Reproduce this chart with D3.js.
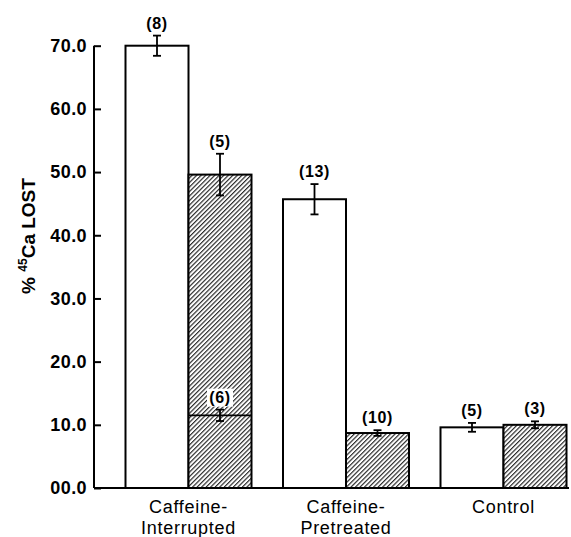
<!DOCTYPE html>
<html>
<head>
<meta charset="utf-8">
<script src="https://cdn.jsdelivr.net/npm/d3@7"></script>
<style>
  html, body { margin: 0; padding: 0; background: #fff; }
  svg { display: block; font-family: "Liberation Sans", Arial, Helvetica, sans-serif; }
</style>
</head>
<body>
<svg id="chart" width="571" height="537"></svg>
<script>
// Treatment groups along the x axis (two text lines each)
const groups = ["Caffeine-Interrupted", "Caffeine-Pretreated", "Control"];
const groupLines = [["Caffeine-", "Interrupted"], ["Caffeine-", "Pretreated"], ["Control"]];

// Open bars: mean % 45Ca lost, SEM, and number of preparations
const openValues = [70.0, 45.7, 9.6];
const openErrors = [1.6, 2.4, 0.7];
const openN = [8, 13, 5];

// Hatched bars
const hatchedValues = [49.6, 8.7, 10.0];
const hatchedErrors = [3.3, 0.45, 0.55];
const hatchedN = [5, 10, 3];

// Second level marked inside the Caffeine-Interrupted hatched bar
const innerGroup = "Caffeine-Interrupted";
const innerValue = 11.5;
const innerError = 0.9;
const innerN = 6;

// Y axis ticks
const yTicks = [0, 10, 20, 30, 40, 50, 60, 70];

const svg = d3.select("#chart");
const axisX = 94;
const baseY = 488;

const y = d3.scaleLinear().domain([0, 70]).range([baseY, 45.7]);
const x = d3.scaleBand().domain(groups).range([axisX, 598]).paddingInner(0.2).paddingOuter(0.2);
const sub = d3.scaleBand().domain(["open", "hatched"]).range([0, x.bandwidth()]);

// Diagonal hatch fill
const defs = svg.append("defs");
const pat = defs.append("pattern")
  .attr("id", "hatch")
  .attr("patternUnits", "userSpaceOnUse")
  .attr("width", 3.2).attr("height", 10)
  .attr("patternTransform", "rotate(45)");
pat.append("rect").attr("width", 3.2).attr("height", 10).attr("fill", "#fff");
pat.append("line")
  .attr("x1", 0.6).attr("x2", 0.6).attr("y1", 0).attr("y2", 10)
  .attr("stroke", "#1a1a1a").attr("stroke-width", 1.1);

// Flatten bars into records
const bars = [];
groups.forEach((g, i) => {
  bars.push({ group: g, kind: "open", value: openValues[i], err: openErrors[i], n: openN[i] });
  bars.push({ group: g, kind: "hatched", value: hatchedValues[i], err: hatchedErrors[i], n: hatchedN[i] });
});

const barX = d => x(d.group) + sub(d.kind);
const barCx = d => barX(d) + sub.bandwidth() / 2;

svg.append("g").selectAll("rect")
  .data(bars)
  .join("rect")
  .attr("x", d => barX(d))
  .attr("y", d => y(d.value))
  .attr("width", sub.bandwidth())
  .attr("height", d => y(0) - y(d.value))
  .attr("fill", d => d.kind === "open" ? "#fff" : "url(#hatch)")
  .attr("stroke", "#000")
  .attr("stroke-width", 2);

// Inner level line across the hatched bar
const inner = { group: innerGroup, kind: "hatched", value: innerValue, err: innerError, n: innerN };
svg.append("line")
  .attr("x1", barX(inner)).attr("x2", barX(inner) + sub.bandwidth())
  .attr("y1", y(innerValue)).attr("y2", y(innerValue))
  .attr("stroke", "#000").attr("stroke-width", 1.6);

// Error bars
const allErr = bars.concat([inner]);
const capHalf = 4;
const eg = svg.append("g").attr("stroke", "#000").attr("stroke-width", 1.8);
allErr.forEach(d => {
  const cx = barCx(d);
  const top = y(d.value + d.err), bot = y(d.value - d.err);
  eg.append("line").attr("x1", cx).attr("x2", cx).attr("y1", top).attr("y2", bot);
  eg.append("line").attr("x1", cx - capHalf).attr("x2", cx + capHalf).attr("y1", top).attr("y2", top);
  eg.append("line").attr("x1", cx - capHalf).attr("x2", cx + capHalf).attr("y1", bot).attr("y2", bot);
});

// Sample size labels above the error bars
const labelGap = 7;
// white backing behind the label that sits inside the hatched bar
{
  const cx = barCx(inner);
  const by = y(innerValue + innerError) - labelGap;
  svg.append("rect")
    .attr("x", cx - 13).attr("y", by - 14)
    .attr("width", 26).attr("height", 18)
    .attr("fill", "#fff");
}
svg.append("g").selectAll("text")
  .data(allErr)
  .join("text")
  .attr("x", d => barCx(d))
  .attr("y", d => y(d.value + d.err) - labelGap)
  .attr("text-anchor", "middle")
  .attr("font-size", 16)
  .attr("font-weight", "bold")
  .attr("letter-spacing", 0.6)
  .attr("fill", "#000")
  .text(d => `(${d.n})`);

// Y axis
const yAxis = d3.axisLeft(y)
  .tickValues(yTicks)
  .tickSize(-7)
  .tickPadding(7)
  .tickFormat(d => d === 0 ? "00.0" : d3.format(".1f")(d));
const ya = svg.append("g").attr("transform", `translate(${axisX},0)`).call(yAxis);
ya.select(".domain").attr("stroke", "#000").attr("stroke-width", 2)
  .attr("d", `M0,${y(70)}V${y(0)}`);
ya.selectAll(".tick line").attr("stroke", "#000").attr("stroke-width", 2);
ya.selectAll(".tick text")
  .attr("font-size", 18)
  .attr("font-weight", "bold")
  .attr("letter-spacing", 0.4)
  .attr("fill", "#000")
  .attr("font-family", "'Liberation Sans', Arial, sans-serif");

// X baseline
svg.append("line")
  .attr("x1", axisX).attr("x2", 569)
  .attr("y1", y(0)).attr("y2", y(0))
  .attr("stroke", "#000").attr("stroke-width", 2);

// Category labels
const cat = svg.append("g").attr("font-size", 18).attr("letter-spacing", 0.7).attr("fill", "#000");
groups.forEach((g, i) => {
  const t = cat.append("text")
    .attr("x", x(g) + x.bandwidth() / 2)
    .attr("y", 513)
    .attr("text-anchor", "middle");
  groupLines[i].forEach((line, j) => {
    t.append("tspan")
      .attr("x", x(g) + x.bandwidth() / 2)
      .attr("dy", j === 0 ? 0 : 21)
      .text(line);
  });
});

// Y axis title: % 45Ca LOST
const yt = svg.append("text")
  .attr("transform", "translate(35,236) rotate(-90)")
  .attr("text-anchor", "middle")
  .attr("font-size", 19)
  .attr("font-weight", "bold")
  .attr("fill", "#000");
yt.append("tspan").text("% ");
yt.append("tspan").attr("font-size", 12).attr("dy", -8).text("45");
yt.append("tspan").attr("dy", 8).text("Ca LOST");
</script>
</body>
</html>
